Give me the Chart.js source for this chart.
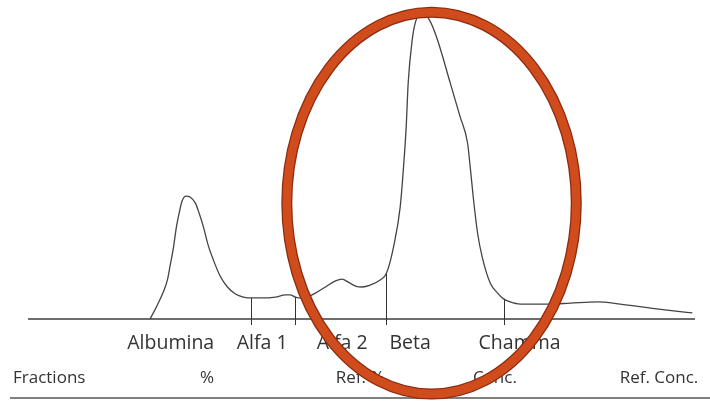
<!DOCTYPE html>
<html>
<head>
<meta charset="utf-8">
<script src="https://cdn.jsdelivr.net/npm/chart.js@4"></script>
<style>
html,body{margin:0;padding:0;background:#fff;}
canvas{display:block;}
</style>
</head>
<body>
<canvas id="c" width="710" height="404"></canvas>
<script>
// ---- data ----
const mobility = [18.3,19.4,20.3,20.9,21.3,21.8,22.2,22.7,23.1,23.7,24.3,25.1,25.7,26.3,27.0,27.8,28.8,29.9,31.1,32.3,33.5,35.1,37.1,38.6,39.3,40.1,40.8,41.9,43.1,44.6,46.1,47.1,48.0,49.1,50.1,51.3,52.8,53.7,54.8,55.8,56.3,56.7,57.0,57.6,58.1,58.7,59.4,60.2,61.4,63.3,64.8,65.9,66.3,66.8,67.4,68.1,69.3,70.4,71.3,72.3,73.8,75.8,78.3,81.3,85.4,88.8,93.3,97.1,99.6];
const density  = [0,4.6,8.9,12.8,17.4,23.3,29.5,35.1,38.7,40.3,40.0,38.0,34.4,30.2,24.3,19.3,14.1,10.5,8.2,7.2,6.9,6.9,7.2,7.9,7.9,7.2,6.9,7.2,8.5,10.5,12.5,13.1,12.1,10.8,10.5,11.1,12.8,14.8,23.6,36.7,49.8,63.0,77.4,91.5,97.4,99.7,99.7,98.0,91.5,77.4,66.2,57.7,49.8,39.0,28.2,20.3,11.8,8.5,6.6,5.6,4.9,4.9,4.9,5.2,5.6,4.9,3.6,2.6,2.0];
const fractions = ['Albumina','Alfa 1','Alfa 2','Beta','Chamma'];
const fractionBounds = [33.5, 40.1, 53.7, 71.3];
const tableHeaders = ['Fractions','%','Ref. %','Conc.','Ref. Conc.'];

// ---- layout (positions in axis units) ----
const layout = {
  fractionLabelX: [21.4, 35.1, 47.1, 57.3, 73.7],
  headerX: [-2.25, 26.85, 49.8, 70.0, 100.5],
  headerAlign: ['left','center','center','center','right'],
  highlight: {x: 60.5, y: 38.0, rx: 21.7, ry: 62.6}
};

function curveAt(x){
  for(let i=0;i<mobility.length-1;i++){
    if(x>=mobility[i] && x<=mobility[i+1]){
      const t=(x-mobility[i])/(mobility[i+1]-mobility[i]);
      return density[i]+t*(density[i+1]-density[i]);
    }
  }
  return 0;
}

const decor = {
  id:'decor',
  beforeDatasetsDraw(chart){
    const {ctx, chartArea:a, scales:{x,y}} = chart;
    ctx.save();
    ctx.strokeStyle='#3c3c3c'; ctx.lineWidth=1.5;
    ctx.beginPath(); ctx.moveTo(a.left, y.getPixelForValue(0)); ctx.lineTo(a.right, y.getPixelForValue(0)); ctx.stroke();
    ctx.lineWidth=1; ctx.strokeStyle='#333';
    fractionBounds.forEach(b=>{
      const px=Math.round(x.getPixelForValue(b))+0.5;
      ctx.beginPath(); ctx.moveTo(px, y.getPixelForValue(curveAt(b))); ctx.lineTo(px, y.getPixelForValue(0)+6); ctx.stroke();
    });
    ctx.restore();
  },
  afterDatasetsDraw(chart){
    const {ctx, chartArea:a, scales:{x,y}} = chart;
    ctx.save();
    ctx.fillStyle='#333';
    ctx.textBaseline='middle';
    ctx.font='19.5px "Open Sans"';
    ctx.textAlign='center';
    fractions.forEach((f,i)=>ctx.fillText(f, x.getPixelForValue(layout.fractionLabelX[i]), a.bottom+24));
    ctx.font='17px "Open Sans"';
    tableHeaders.forEach((h,i)=>{
      ctx.textAlign=layout.headerAlign[i];
      ctx.fillText(h, x.getPixelForValue(layout.headerX[i]), a.bottom+59);
    });
    ctx.strokeStyle='#555'; ctx.lineWidth=1.5;
    ctx.beginPath(); ctx.moveTo(10, a.bottom+79); ctx.lineTo(chart.width, a.bottom+79); ctx.stroke();
    // highlight ellipse
    const h=layout.highlight;
    const cx=x.getPixelForValue(h.x), cy=y.getPixelForValue(h.y);
    const rx=Math.abs(x.getPixelForValue(h.x+h.rx)-cx), ry=Math.abs(y.getPixelForValue(h.y+h.ry)-cy);
    ctx.beginPath(); ctx.ellipse(cx,cy,rx,ry,0,0,Math.PI*2);
    ctx.strokeStyle='rgb(140,42,14)'; ctx.lineWidth=11; ctx.stroke();
    ctx.beginPath(); ctx.ellipse(cx,cy,rx,ry,0,0,Math.PI*2);
    ctx.strokeStyle='rgb(208,76,28)'; ctx.lineWidth=8.5; ctx.stroke();
    ctx.restore();
  }
};

new Chart(document.getElementById('c'), {
  type:'line',
  data:{datasets:[{
    data: mobility.map((m,i)=>({x:m, y:density[i]})),
    borderColor:'#444', borderWidth:1.3, pointRadius:0,
    cubicInterpolationMode:'monotone', fill:false
  }]},
  options:{
    responsive:false, animation:false, devicePixelRatio:1,
    layout:{padding:{left:28,right:15,top:14,bottom:85}},
    plugins:{legend:{display:false}, tooltip:{enabled:false}},
    scales:{
      x:{type:'linear', min:0, max:100, display:false},
      y:{min:0, max:100, display:false}
    }
  },
  plugins:[decor]
});
</script>
</body>
</html>
